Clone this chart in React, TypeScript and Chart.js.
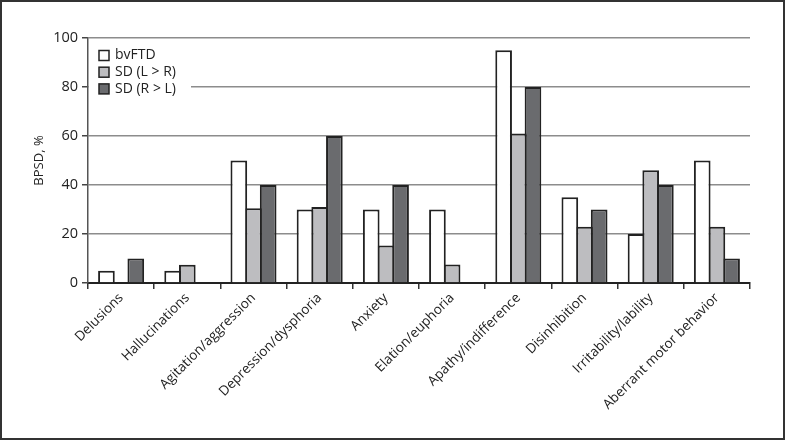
import React, { useEffect, useRef } from "react";
import { Chart, registerables } from "chart.js";

Chart.register(...registerables);

const categories = [
  "Delusions",
  "Hallucinations",
  "Agitation/aggression",
  "Depression/dysphoria",
  "Anxiety",
  "Elation/euphoria",
  "Apathy/indifference",
  "Disinhibition",
  "Irritability/lability",
  "Aberrant motor behavior",
];
const seriesNames = ["bvFTD", "SD (L > R)", "SD (R > L)"];
const bvFTD = [5, 5, 50, 30, 30, 30, 95, 35, 20, 50];
const sdLR = [0, 7.5, 30.5, 31, 15.3, 7.6, 61, 23, 46, 23];
const sdRL = [10, 0, 40, 60, 40, 0, 80, 30, 40, 10];
const seriesColors = ["#ffffff", "#bdbdc0", "#6a6b6e"];
const yTicks = [0, 20, 40, 60, 80, 100];

const FONT = "'Open Sans', 'Noto Sans', sans-serif";

const legendPlugin = {
  id: "insideLegend",
  afterDatasetsDraw(chart: any) {
    const ctx = chart.ctx;
    const area = chart.chartArea;
    ctx.save();
    ctx.fillStyle = "#ffffff";
    ctx.fillRect(area.left + 1, area.top + 4, 102, 54);
    ctx.font = `14px ${FONT}`;
    ctx.textBaseline = "middle";
    chart.data.datasets.forEach((ds: any, i: number) => {
      const y = area.top + 17.5 + i * 16.7;
      const x = area.left + 11;
      ctx.fillStyle = ds.backgroundColor;
      ctx.fillRect(x, y - 5, 10, 10);
      ctx.strokeStyle = "#222";
      ctx.lineWidth = 1.5;
      ctx.strokeRect(x, y - 5, 10, 10);
      ctx.fillStyle = "#222";
      ctx.fillText(ds.label, x + 16, y);
    });
    ctx.restore();
  },
  afterDraw(chart: any) {
    const ctx = chart.ctx;
    ctx.save();
    ctx.strokeStyle = "#333";
    ctx.lineWidth = 2;
    ctx.strokeRect(1, 1, chart.width - 2, chart.height - 2);
    ctx.restore();
  },
};

export default function App() {
  const ref = useRef<HTMLCanvasElement>(null);
  useEffect(() => {
    if (!ref.current) return;
    const data = [bvFTD, sdLR, sdRL];
    const chart = new Chart(ref.current, {
      type: "bar",
      data: {
        labels: categories,
        datasets: seriesNames.map((n, i) => ({
          label: n,
          data: data[i],
          backgroundColor: seriesColors[i],
          borderColor: "#222",
          borderWidth: 2,
          categoryPercentage: 0.665,
          barPercentage: 1.136,
        })),
      },
      options: {
        animation: false,
        responsive: false,
        maintainAspectRatio: false,
        layout: { padding: { left: 0, top: 38, right: 35, bottom: 0 } },
        plugins: {
          legend: { display: false },
          tooltip: { enabled: false },
        },
        scales: {
          x: {
            grid: {
              offset: true,
              drawOnChartArea: false,
              drawTicks: true,
              tickLength: 6,
              tickColor: "#333",
              lineWidth: 1.5,
            },
            border: { color: "#222", width: 2 },
            ticks: {
              minRotation: 45,
              maxRotation: 45,
              autoSkip: false,
              padding: 1,
              color: "#222",
              font: { family: FONT, size: 13.5 },
            },
            afterFit(scale: any) {
              scale.height = 157;
            },
          },
          y: {
            min: 0,
            max: 100,
            afterBuildTicks(scale: any) {
              scale.ticks = yTicks.map((v) => ({ value: v }));
            },
            grid: {
              color: "#8c8c8c",
              lineWidth: 1.5,
              tickLength: 6,
              tickColor: "#444",
            },
            border: { color: "#555", width: 1.5 },
            ticks: {
              padding: 4,
              color: "#222",
              font: { family: FONT, size: 14.5 },
            },
            title: {
              display: true,
              text: "BPSD, %",
              color: "#222",
              font: { family: FONT, size: 13 },
              padding: { top: 31, bottom: 0 },
            },
            afterFit(scale: any) {
              scale.width = 88;
            },
          },
        },
      },
      plugins: [legendPlugin],
    });
    return () => chart.destroy();
  }, []);
  return (
    <div style={{ position: "fixed", left: 0, top: 0, width: 785, height: 440, background: "#fff" }}>
      <canvas ref={ref} width={785} height={440} style={{ display: "block" }} />
    </div>
  );
}
